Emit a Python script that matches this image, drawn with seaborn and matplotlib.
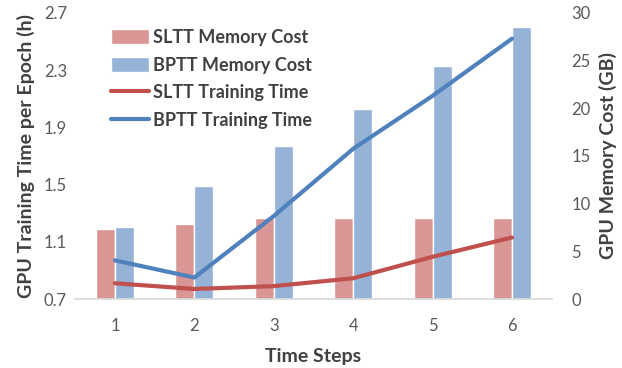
import matplotlib
matplotlib.use("Agg")
import matplotlib.pyplot as plt
import seaborn as sns
import pandas as pd
from matplotlib.patches import Patch
from matplotlib.lines import Line2D

sns.set_theme(style="white")
plt.rcParams['font.family'] = ['Lato', 'DejaVu Sans']

# data
steps = ['1', '2', '3', '4', '5', '6']
sltt_mem = [7.3, 7.9, 8.5, 8.5, 8.5, 8.5]
bptt_mem = [7.6, 11.8, 16.0, 19.9, 24.4, 28.5]
sltt_time = [0.81, 0.77, 0.79, 0.845, 0.995, 1.13]
bptt_time = [0.97, 0.85, 1.28, 1.75, 2.12, 2.52]

c_sltt_bar = '#d99694'
c_bptt_bar = '#95b3d7'
c_sltt_line = '#c0504d'
c_bptt_line = '#4f81bd'
txt = '#404040'
tick_c = '#595959'

mem = pd.DataFrame({
    'step': steps * 2,
    'mem': sltt_mem + bptt_mem,
    'method': ['SLTT'] * len(steps) + ['BPTT'] * len(steps),
})

fig = plt.figure(figsize=(6.22, 3.68), dpi=100)
ax_bar = fig.add_axes([0.121, 0.1875, 0.766, 0.7775])
ax_line = ax_bar.twinx()

# bars -> right axis (GB)
sns.barplot(data=mem, x='step', y='mem', hue='method', ax=ax_bar,
            palette=[c_sltt_bar, c_bptt_bar], width=0.48, legend=False,
            saturation=1)
ax_bar.set_ylim(0, 30)
ax_bar.set_yticks(range(0, 31, 5))
ax_bar.set_xlim(-0.5, 5.5)

# lines -> left axis (hours)
sns.pointplot(x=steps, y=sltt_time, ax=ax_line, color=c_sltt_line,
              marker='', linewidth=3, errorbar=None)
sns.pointplot(x=steps, y=bptt_time, ax=ax_line, color=c_bptt_line,
              marker='', linewidth=3, errorbar=None)
ax_line.set_xlim(-0.5, 5.5)
ax_line.set_ylim(0.7, 2.7)
ax_line.set_yticks([0.7, 1.1, 1.5, 1.9, 2.3, 2.7])
ax_line.set_yticklabels(['0.7', '1.1', '1.5', '1.9', '2.3', '2.7'])

# swap sides: bar axis on the right, line axis on the left
ax_bar.yaxis.tick_right()
ax_bar.yaxis.set_label_position('right')
ax_line.yaxis.tick_left()
ax_line.yaxis.set_label_position('left')

ax_bar.set_ylabel('GPU Memory Cost (GB)', fontsize=14, fontweight='bold',
                  color=txt, labelpad=6)
ax_bar.set_xlabel('Time Steps', fontsize=14, fontweight='bold', color=txt,
                  labelpad=10)
ax_line.set_ylabel('GPU Training Time per Epoch (h)', fontsize=14,
                   fontweight='bold', color=txt, labelpad=6)

for ax in (ax_bar, ax_line):
    for s in ('top', 'left', 'right'):
        ax.spines[s].set_visible(False)
    ax.spines['bottom'].set_color('#d9d9d9')
    ax.tick_params(axis='both', length=0, labelsize=12, colors=tick_c, pad=6)
    ax.grid(False)
ax_line.spines['bottom'].set_visible(False)
ax_bar.tick_params(axis='x', pad=14)
ax_bar.tick_params(axis='y', pad=14)

handles = [
    Patch(facecolor=c_sltt_bar, label='SLTT Memory Cost'),
    Patch(facecolor=c_bptt_bar, label='BPTT Memory Cost'),
    Line2D([], [], color=c_sltt_line, lw=3, label='SLTT Training Time'),
    Line2D([], [], color=c_bptt_line, lw=3, label='BPTT Training Time'),
]
leg = ax_line.legend(handles=handles, loc='upper left',
                     bbox_to_anchor=(0.06, 0.97), frameon=False,
                     prop={'size': 13, 'weight': 'bold'},
                     handlelength=2.1, handleheight=0.9, handletextpad=0.2,
                     labelspacing=0.6, borderaxespad=0)
for t in leg.get_texts():
    t.set_color(txt)

fig.savefig('out.png', dpi=100)
